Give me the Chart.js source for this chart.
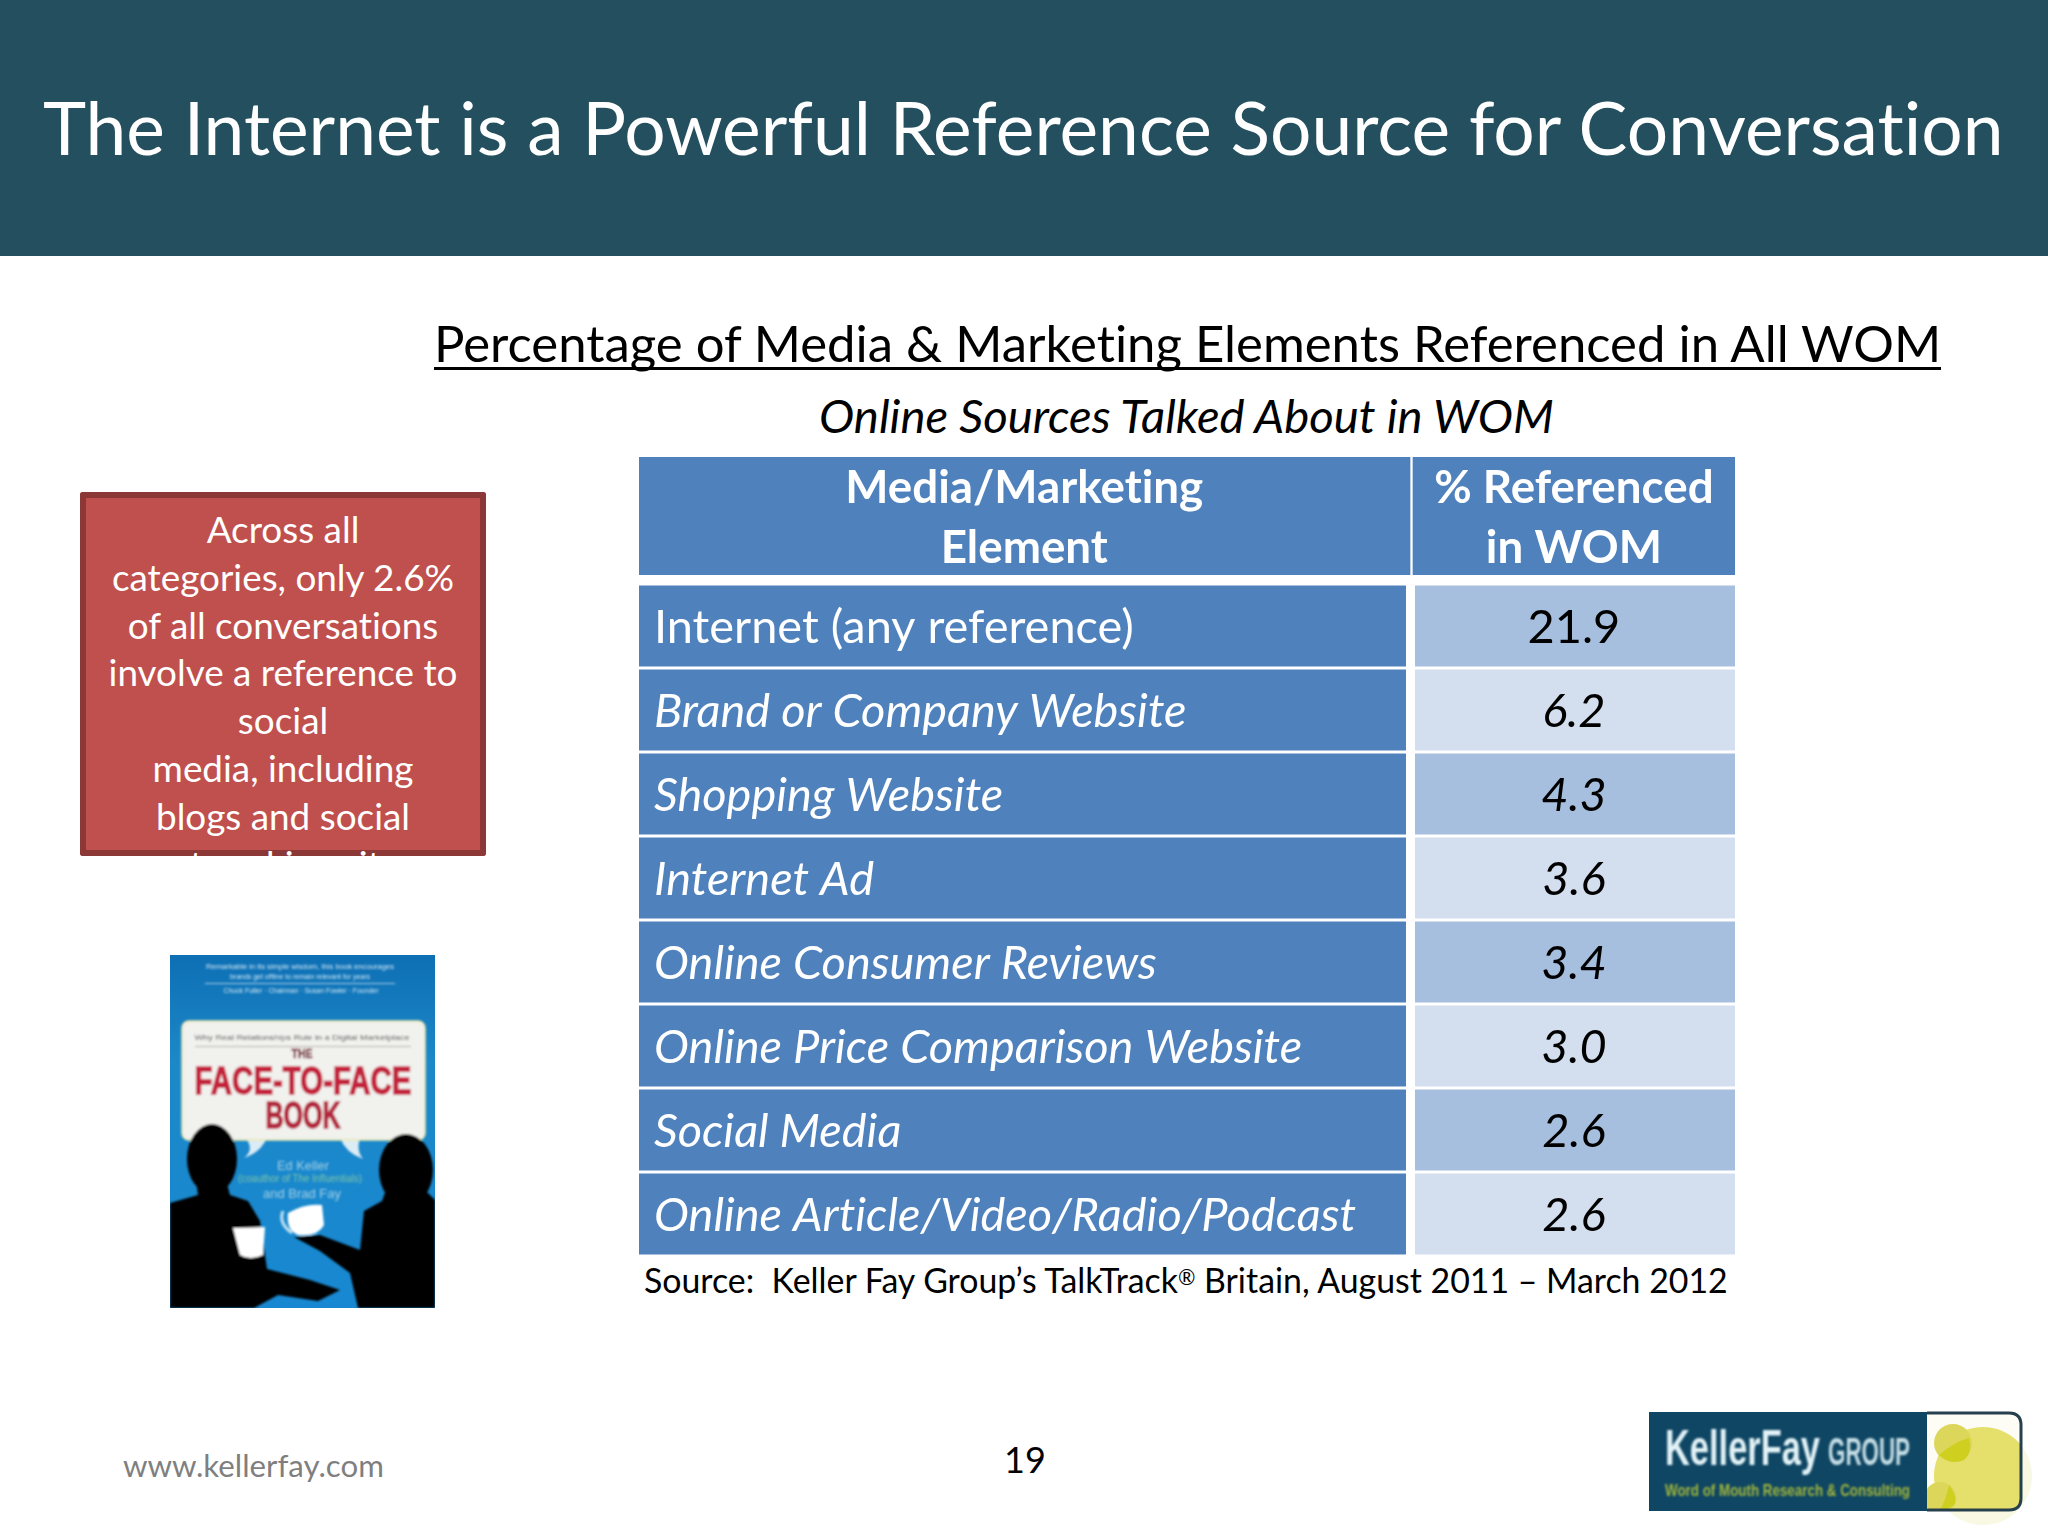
<!DOCTYPE html>
<html><head><meta charset="utf-8">
<script src="https://cdn.jsdelivr.net/npm/chart.js@4"></script>
<style>
html,body{margin:0;padding:0;background:#fff;width:2048px;height:1536px;overflow:hidden;font-family:Lato,sans-serif;font-variant-ligatures:none}
.t{position:absolute;white-space:pre;line-height:1;transform:translateY(-50%)}
canvas{position:absolute;display:block}
svg{position:absolute;overflow:visible}
#band{position:absolute;left:0;top:0;width:2048px;height:256px;background:#234f5e}
#box{position:absolute;left:80px;top:492px;width:406px;height:364px;background:#c0504d;box-shadow:inset 0 0 0 6px #8c3836;border-radius:3px;overflow:hidden;color:#fff;text-align:center}
#box div{position:absolute;left:0;right:0;top:14px;line-height:47.8px;white-space:pre}
.reg{font-size:.62em;position:relative;top:-.38em}
</style></head><body>
<div id="band"></div>
<div class="t" id="title" style="left:43px;top:127.5px;color:#fff">The Internet is a Powerful Reference Source for Conversation</div>
<div class="t" id="sub1" style="left:434px;top:343px;color:#000">Percentage of Media &amp; Marketing Elements Referenced in All WOM</div>
<div style="position:absolute;left:434px;top:367px;width:1507px;height:3px;background:#000"></div>
<div class="t" id="sub2" style="left:819px;top:415px;color:#000;font-style:italic">Online Sources Talked About in WOM</div>
<div id="box"><div id="boxText">Across all
categories, only 2.6%
of all conversations
involve a reference to
social
media, including
blogs and social
networking sites</div></div>

<svg style="left:170px;top:955px" width="265" height="353" viewBox="0 0 265 353">
<defs>
<linearGradient id="bg" x1="0" y1="0" x2="0" y2="1"><stop offset="0" stop-color="#0e6fb4"/><stop offset=".3" stop-color="#1c88c8"/><stop offset="1" stop-color="#1888d2"/></linearGradient>
<filter id="b1" x="-5%" y="-5%" width="110%" height="110%"><feGaussianBlur stdDeviation="0.9"/></filter>
<clipPath id="bk"><rect width="265" height="353"/></clipPath>
</defs>
<rect width="265" height="353" fill="url(#bg)"/>
<g clip-path="url(#bk)"><g filter="url(#b1)">
<g fill="#cfe6f5" font-family="Liberation Sans" font-size="7" text-anchor="middle">
<text x="130" y="14" textLength="188" lengthAdjust="spacingAndGlyphs">Remarkable in its simple wisdom, this book encourages</text>
<text x="130" y="24" textLength="140" lengthAdjust="spacingAndGlyphs">brands get offline to remain relevant for years</text>
<text x="131" y="38" textLength="155" lengthAdjust="spacingAndGlyphs">Chuck Fuller · Chairman · Susan Fowler · Founder</text>
</g>
<rect x="35" y="28" width="190" height="0.8" fill="#cfe6f5"/>
<path d="M77 185 Q95 182 97 183 Q90 198 74 203 Q84 195 77 185Z M170 183 L190 183 Q186 196 193 204 Q176 198 170 183Z" fill="#dcecf5"/>
<rect x="12" y="66" width="243" height="119" rx="7" fill="#f1f1ee" stroke="#e9e7a8" stroke-width="1.5"/>
<text x="132" y="85" fill="#555" font-family="Liberation Sans" font-size="8" text-anchor="middle" textLength="215" lengthAdjust="spacingAndGlyphs">Why Real Relationships Rule in a Digital Marketplace</text>
<rect x="25" y="91" width="216" height="0.8" fill="#999"/>
<text x="132" y="103" fill="#7a2a35" stroke="#7a2a35" stroke-width=".5" font-family="Liberation Sans Narrow,Liberation Sans" font-weight="700" font-size="13" text-anchor="middle" textLength="21" lengthAdjust="spacingAndGlyphs">THE</text>
<text x="133" y="139" fill="#c4233c" stroke="#c4233c" stroke-width="1.3" font-family="Liberation Sans Narrow,Liberation Sans" font-weight="700" font-size="38" text-anchor="middle" textLength="217" lengthAdjust="spacingAndGlyphs">FACE-TO-FACE</text>
<text x="133" y="173" fill="#b4283c" stroke="#b4283c" stroke-width="1.3" font-family="Liberation Sans Narrow,Liberation Sans" font-weight="700" font-size="36" text-anchor="middle" textLength="75" lengthAdjust="spacingAndGlyphs">BOOK</text>
<g font-family="Liberation Sans" font-size="12" text-anchor="middle" opacity=".85">
<text x="133" y="215" fill="#bcdcea" textLength="52" lengthAdjust="spacingAndGlyphs">Ed Keller</text>
<text x="130" y="227" fill="#8fd0a0" font-size="10" textLength="124" lengthAdjust="spacingAndGlyphs">(coauthor of The Influentials)</text>
<text x="132" y="243" fill="#bcdcea" textLength="78" lengthAdjust="spacingAndGlyphs">and Brad Fay</text>
</g>
<ellipse cx="42" cy="204" rx="25" ry="35" fill="#000"/>
<path d="M26 225 L56 225 L60 240 L78 246 L90 266 L97 314 L140 325 L170 335 L148 346 L108 340 L84 353 L0 353 L0 248 L28 240Z" fill="#000"/>
<ellipse cx="236" cy="215" rx="27" ry="36" fill="#000"/>
<path d="M216 235 L255 235 L265 245 L265 353 L188 353 L180 318 L150 296 L124 282 L150 280 L190 295 L194 256 L212 246Z" fill="#000"/>
<path d="M63 273 L95 272 L93 300 Q80 306 70 300Z" fill="#fff"/>
<path d="M118 258 Q135 248 152 250 L154 270 Q148 282 128 280 Q116 275 118 258Z" fill="#fff"/>
<path d="M113 256 Q108 268 122 278" fill="none" stroke="#bfe0f0" stroke-width="3"/>
</g></g>
</svg>

<canvas id="head" width="1096" height="118" style="left:639px;top:457px;width:1096px;height:118px"></canvas>
<canvas id="body" width="1096" height="672" style="left:639px;top:584px;width:1096px;height:672px"></canvas>

<div class="t" id="source" style="left:644px;top:1281px;color:#000">Source:  Keller Fay Group’s TalkTrack<span class="reg">®</span> Britain, August 2011 – March 2012</div>
<div class="t" id="www" style="left:123px;top:1466px;color:#7f7f7f">www.kellerfay.com</div>
<div class="t" id="page" style="left:1004px;top:1459px;color:#000">19</div>

<svg style="left:1649px;top:1412px" width="373" height="99" viewBox="0 0 373 99">
<defs><filter id="b2" x="-5%" y="-20%" width="110%" height="140%"><feGaussianBlur stdDeviation="0.8"/></filter>
<clipPath id="lg"><path d="M278 1 H360 Q372 1 372 13 V86 Q372 98 360 98 H278Z"/></clipPath></defs>
<circle cx="334" cy="64" r="49" fill="#eeeab0" opacity=".35"/>
<circle cx="304" cy="22" r="20" fill="#eeeab0" opacity=".35"/>
<path d="M278 1 H360 Q372 1 372 13 V86 Q372 98 360 98 H278Z" fill="#fdfdf6"/>
<g clip-path="url(#lg)">
<circle cx="334" cy="64" r="49" fill="#e5e06c"/>
<circle cx="304" cy="31" r="19" fill="#dcd65a"/>
<circle cx="291" cy="86" r="16" fill="#dcd65a"/>
<path d="M290 43 Q305 30 320 26 Q324 40 315 48 Q303 54 290 43Z" fill="#cfcf20"/>
<path d="M300 73 Q308 83 306 92 Q300 98 290 100 Q297 88 300 73Z" fill="#cfcf20"/>
</g>
<path d="M278 1 H360 Q372 1 372 13 V86 Q372 98 360 98 H278" fill="none" stroke="#26404e" stroke-width="3"/>
<rect x="0" y="0" width="278" height="99" fill="#0e4664"/>
<g filter="url(#b2)">
<text x="16" y="53" fill="#e2f2f6" font-family="Liberation Sans Narrow,Liberation Sans" font-weight="700" font-size="50" textLength="155" lengthAdjust="spacingAndGlyphs">KellerFay</text>
<text x="179" y="53" fill="#c5dde4" font-family="Liberation Sans Narrow,Liberation Sans" font-weight="700" font-size="38" textLength="82" lengthAdjust="spacingAndGlyphs">GROUP</text>
<text x="16" y="84" fill="#a2b53a" font-family="Liberation Sans Narrow,Liberation Sans" font-weight="700" font-size="17" textLength="245" lengthAdjust="spacingAndGlyphs">Word of Mouth Research &amp; Consulting</text>
</g>
</svg>

<script>
const categories = ["Internet (any reference)","Brand or Company Website","Shopping Website","Internet Ad","Online Consumer Reviews","Online Price Comparison Website","Social Media","Online Article/Video/Radio/Podcast"];
const referencedValues = [21.9,6.2,4.3,3.6,3.4,3.0,2.6,2.6];
const headerLeft = ["Media/Marketing","Element"];
const headerRight = ["% Referenced","in WOM"];

const FAMILY = "Lato";
const probe = document.createElement("canvas").getContext("2d");
probe.letterSpacing = "0.01px";
function sizeFor(text, style, weight, width){
  probe.font = `${style} ${weight} 100px ${FAMILY}`;
  return 100 * width / probe.measureText(text).width;
}
function fitDom(id, width){
  const el = document.getElementById(id);
  el.style.fontSize = "100px";
  el.style.fontSize = (100 * width / el.getBoundingClientRect().width).toFixed(2) + "px";
}
fitDom("title",1961);
fitDom("sub1",1507);
fitDom("sub2",735);
fitDom("source",1084);
fitDom("www",261);
document.getElementById("boxText").style.fontSize = sizeFor("involve a reference to","normal",400,349).toFixed(2) + "px";
document.getElementById("page").style.fontSize = "36px";

const rowSize = sizeFor("Online Article/Video/Radio/Podcast","italic",400,702);
const headSize = sizeFor("Media/Marketing","normal",700,358);

const noLigatures = {id:"noLigatures",beforeDraw(chart){chart.ctx.letterSpacing = "0.01px";}};
const cellLabels = {
  id:"cellLabels",
  afterDatasetsDraw(chart){
    const {ctx, scales:{x,y}} = chart;
    ctx.save();
    ctx.textAlign = "center"; ctx.textBaseline = "middle"; ctx.fillStyle = "#000";
    referencedValues.forEach((v,i)=>{
      ctx.font = `${i===0?"normal":"italic"} 400 ${rowSize}px ${FAMILY}`;
      ctx.fillText(v.toFixed(1), x.getPixelForValue(0.853), y.getPixelForValue(i) + 2);
    });
    ctx.restore();
  }
};
const headLabels = {
  id:"headLabels",
  afterDatasetsDraw(chart){
    const {ctx, scales:{x}} = chart;
    ctx.save();
    ctx.textAlign = "center"; ctx.textBaseline = "middle"; ctx.fillStyle = "#fff";
    ctx.font = `700 ${headSize}px ${FAMILY}`;
    headerLeft.forEach((s,i)=>ctx.fillText(s, x.getPixelForValue(0.3515), 31 + i*60));
    headerRight.forEach((s,i)=>ctx.fillText(s, x.getPixelForValue(0.853), 31 + i*60));
    ctx.restore();
  }
};
const xScale = {type:"linear",min:0,max:1,display:false};
Chart.defaults.font.family = FAMILY;

new Chart(document.getElementById("body"),{
  type:"bar",
  data:{labels:categories,datasets:[
    {label:"Media/Marketing Element",data:categories.map(()=>[0,0.6998]),backgroundColor:"#4f81bd",borderWidth:0,barPercentage:81/84,categoryPercentage:1,grouped:false},
    {label:"% Referenced in WOM",data:categories.map(()=>[0.708,1]),backgroundColor:categories.map((c,i)=>i%2?"#d3dfee":"#a7bfde"),borderWidth:0,barPercentage:81/84,categoryPercentage:1,grouped:false}
  ]},
  options:{indexAxis:"y",responsive:false,animation:false,devicePixelRatio:1,
    layout:{padding:0},
    plugins:{legend:{display:false},tooltip:{enabled:false}},
    scales:{x:xScale,y:{type:"category",grid:{display:false},border:{display:false},
      afterFit(s){s.width=0;s.paddingTop=0;s.paddingBottom=0;s.paddingLeft=0;s.paddingRight=0;},
      ticks:{mirror:true,padding:15,z:1,labelOffset:2,color:"#fff",autoSkip:false,
        font:c=>({family:FAMILY,size:rowSize,style:c.index===0?"normal":"italic"})}}}
  },
  plugins:[noLigatures,cellLabels]
});

new Chart(document.getElementById("head"),{
  type:"bar",
  data:{labels:["Header"],datasets:[
    {label:"Media/Marketing Element",data:[[0,0.7035]],backgroundColor:"#4f81bd",borderWidth:0,barPercentage:1,categoryPercentage:1,grouped:false},
    {label:"% Referenced in WOM",data:[[0.7062,1]],backgroundColor:"#4f81bd",borderWidth:0,barPercentage:1,categoryPercentage:1,grouped:false}
  ]},
  options:{indexAxis:"y",responsive:false,animation:false,devicePixelRatio:1,layout:{padding:0},
    plugins:{legend:{display:false},tooltip:{enabled:false}},
    scales:{x:xScale,y:{display:false}}},
  plugins:[noLigatures,headLabels]
});
</script>
</body></html>
